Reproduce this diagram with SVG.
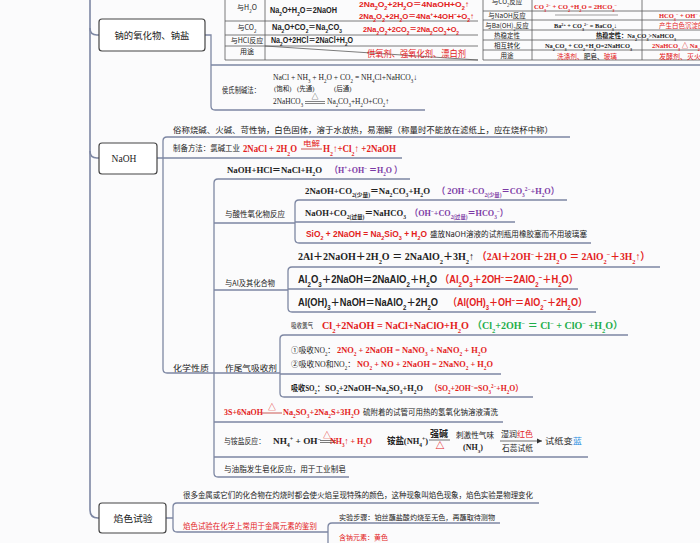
<svg xmlns="http://www.w3.org/2000/svg" width="700" height="543" viewBox="0 0 700 543">
<defs>
<style>
text{font-family:"Noto Sans CJK SC","Noto Sans",sans-serif;fill:#222}
.c{font-size:8px}
.t{font-family:"Liberation Serif","Noto Sans CJK SC",serif;font-weight:bold;font-size:9px}
.n{font-family:"Liberation Serif","Noto Sans CJK SC",serif;font-size:8px}
.a{font-family:"Liberation Sans","Noto Sans CJK SC",sans-serif;font-weight:bold;font-size:10px}
.r{fill:#e3211b}
.pu{fill:#7b3aa5}
.g{fill:#1fae4b}
.bl{fill:#2a8ee0}
.k{fill:#222}
.s{font-size:65%;baseline-shift:sub}
.p{font-size:65%;baseline-shift:super}
.ln{fill:none;stroke:#7d87a3;stroke-width:1.3}
.sp{fill:none;stroke:#7d87a3;stroke-width:1.6}
.tb{fill:none;stroke:#5a5a5a;stroke-width:0.8}
.box{fill:#fff;stroke:#454545;stroke-width:1.2}
.nt{font-size:9.5px;text-anchor:middle}
.lb{font-size:7px;text-anchor:middle}
</style>
<marker id="ah" markerWidth="6" markerHeight="6" refX="5" refY="3" orient="auto" markerUnits="userSpaceOnUse"><path d="M0,0.5 L5,3 L0,5.5 z" fill="#333"/></marker>
</defs>
<rect width="700" height="543" fill="#fbfbfc"/>

<g id="connectors">
<path class="sp" d="M90,0 V510 Q90,518 98,518 H99"/>
<path class="sp" d="M90,28 Q90,35 97,35 H99"/>
<path class="sp" d="M90,151 Q90,158 97,158 H99"/>
<path class="ln" d="M205,35 H211 V106 Q211,110 215,110 H425"/>
<path class="ln" d="M211,65 H700"/>
<path class="ln" d="M157,158 H402"/>
<path class="ln" d="M570,137 H167 Q163,137 163,141 V369 Q163,373 167,373 H280"/>
<path class="ln" d="M410,179 H218 Q214,179 214,183 V473 Q214,477 218,477 H349"/>
<path class="ln" d="M214,223 H295 M214,290 H288 M214,422 H503 M214,457 H588"/>
<path class="ln" d="M567,200 H299 Q295,200 295,204 V239 Q295,243 299,243 H591 M295,222 H515"/>
<path class="ln" d="M660,267 H292 Q288,267 288,271 V308 Q288,312 292,312 H596 M288,289 H578"/>
<path class="ln" d="M628,335 H284 Q280,335 280,339 V393 Q280,397 284,397 H533 M280,374 H501"/>
<path class="ln" d="M166,518 H173 M539,503 H177 Q173,503 173,507 V528 Q173,532 177,532 H328"/>
<path class="ln" d="M500,523 H332 Q328,523 328,527 V543"/>
</g>

<g id="node-oxide">
<rect class="box" x="99" y="19" width="106" height="32" rx="3"/>
<text class="nt" x="152" y="38.5" textLength="75" lengthAdjust="spacingAndGlyphs">钠的氧化物、钠盐</text>
</g>

<g id="table-na2o">
<path class="tb" d="M225,0 V60 M265,0 V60 M225,21 H478 M225,35 H478 M225,46 H478 M225,60 H478 M265,46 L478,60"/>
<text class="lb" x="247" y="10">与H<tspan class="s">2</tspan>O</text>
<text class="lb" x="247" y="30">与CO<tspan class="s">2</tspan></text>
<text class="lb" x="247" y="43">与HCl反应</text>
<text class="lb" x="247" y="54">用途</text>
<text class="a" style="font-size:8.5px" x="270" y="13" textLength="67" lengthAdjust="spacingAndGlyphs">Na<tspan class="s">2</tspan>O+H<tspan class="s">2</tspan>O＝2NaOH</text>
<text class="a r" style="font-size:8px" x="359" y="7" textLength="110" lengthAdjust="spacingAndGlyphs">2Na<tspan class="s">2</tspan>O<tspan class="s">2</tspan>+2H<tspan class="s">2</tspan>O＝4NaOH+O<tspan class="s">2</tspan>↑</text>
<text class="a r" style="font-size:8px" x="359" y="19" textLength="115" lengthAdjust="spacingAndGlyphs">2Na<tspan class="s">2</tspan>O<tspan class="s">2</tspan>+2H<tspan class="s">2</tspan>O＝4Na<tspan class="p">+</tspan>+4OH<tspan class="p">−</tspan>+O<tspan class="s">2</tspan>↑</text>
<text class="a" style="font-size:8.5px" x="272" y="30" textLength="70" lengthAdjust="spacingAndGlyphs">Na<tspan class="s">2</tspan>O+CO<tspan class="s">2</tspan>＝Na<tspan class="s">2</tspan>CO<tspan class="s">3</tspan></text>
<text class="a r" style="font-size:8px" x="363" y="32" textLength="96" lengthAdjust="spacingAndGlyphs">2Na<tspan class="s">2</tspan>O<tspan class="s">2</tspan>+2CO<tspan class="s">2</tspan>＝2Na<tspan class="s">2</tspan>CO<tspan class="s">3</tspan>+O<tspan class="s">2</tspan></text>
<text class="a" style="font-size:8.5px" x="271" y="43" textLength="82" lengthAdjust="spacingAndGlyphs">Na<tspan class="s">2</tspan>O+2HCl＝2NaCl+H<tspan class="s">2</tspan>O</text>
<text class="r" style="font-size:9px" x="367" y="57" textLength="99" lengthAdjust="spacingAndGlyphs">供氧剂、强氧化剂、漂白剂</text>
</g>

<g id="table-na2co3">
<path class="tb" d="M483,0 V60 M532,0 V60 M642,0 V60 M483,11 H700 M483,20 H700 M483,30 H700 M483,40 H700 M483,50 H700 M483,60 H700"/>
<path d="M555,15 H618" stroke="#777" stroke-width="0.7"/>
<text class="lb" style="font-size:6.5px" x="507" y="4">与CO<tspan class="s">2</tspan>反应</text>
<text class="lb" style="font-size:6.5px" x="507" y="17.5">与NaOH反应</text>
<text class="lb" style="font-size:6.5px" x="507" y="27.5">与Ba(OH)<tspan class="s">2</tspan>反应</text>
<text class="lb" style="font-size:6.5px" x="507" y="37.5">热稳定性</text>
<text class="lb" style="font-size:6.5px" x="507" y="47.5">相互转化</text>
<text class="lb" style="font-size:6.5px" x="507" y="57.5">用途</text>
<text class="t r" style="font-size:6.5px" x="534" y="8.5" textLength="83" lengthAdjust="spacingAndGlyphs">CO<tspan class="s">3</tspan><tspan class="p">2−</tspan> + CO<tspan class="s">2</tspan>+H<tspan class="s">2</tspan>O = 2HCO<tspan class="s">3</tspan><tspan class="p">−</tspan></text>
<text class="t r" style="font-size:6.5px" x="659" y="17.5">HCO<tspan class="s">3</tspan><tspan class="p">−</tspan> + OH<tspan class="p">−</tspan> = CO<tspan class="s">3</tspan><tspan class="p">2−</tspan></text>
<text class="t" style="font-size:6.5px" x="554" y="27.5" textLength="63" lengthAdjust="spacingAndGlyphs">Ba<tspan class="p">2+</tspan> + CO<tspan class="s">3</tspan><tspan class="p">2−</tspan> = BaCO<tspan class="s">3</tspan>↓</text>
<text class="r" style="font-size:6.5px" x="659" y="27.5">产生白色沉淀的是Na<tspan class="s">2</tspan>CO<tspan class="s">3</tspan></text>
<text class="t" style="font-size:6.5px" x="596" y="38" textLength="80" lengthAdjust="spacingAndGlyphs">热稳定性：Na<tspan class="s">2</tspan>CO<tspan class="s">3</tspan>&gt;NaHCO<tspan class="s">3</tspan></text>
<text class="t" style="font-size:6.5px" x="545" y="48" textLength="87" lengthAdjust="spacingAndGlyphs">Na<tspan class="s">2</tspan>CO<tspan class="s">3</tspan> + CO<tspan class="s">2</tspan>+H<tspan class="s">2</tspan>O=2NaHCO<tspan class="s">3</tspan></text>
<text class="t r" style="font-size:6.5px" x="652" y="48">2NaHCO<tspan class="s">3</tspan>  △  Na<tspan class="s">2</tspan>CO<tspan class="s">3</tspan></text>
<text style="font-size:7px" x="557" y="58.5" textLength="60" lengthAdjust="spacingAndGlyphs"><tspan class="r">洗涤剂、</tspan>肥皂、<tspan class="r">玻璃</tspan></text>
<text class="r" style="font-size:7px" x="659" y="58.5">发酵剂、灭火剂</text>
</g>

<g id="hou">
<text class="c" style="font-size:7.5px" x="222" y="93" textLength="38" lengthAdjust="spacingAndGlyphs">侯氏制碱法：</text>
<text class="n" x="273" y="80" textLength="144" lengthAdjust="spacingAndGlyphs">NaCl + NH<tspan class="s">3</tspan> + H<tspan class="s">2</tspan>O + CO<tspan class="s">2</tspan> = NH<tspan class="s">4</tspan>Cl+NaHCO<tspan class="s">3</tspan>↓</text>
<text class="n" style="font-size:6.5px" x="274" y="91">(饱和)</text>
<text class="n" style="font-size:6.5px" x="297" y="91">(先通)</text>
<text class="n" style="font-size:6.5px" x="334" y="91">(后通)</text>
<text class="n" x="273" y="104" textLength="30" lengthAdjust="spacingAndGlyphs">2NaHCO<tspan class="s">3</tspan></text>
<text class="n" style="font-size:7px;text-anchor:middle" x="315" y="99">△</text>
<path d="M305,101.5 H325 M305,103.5 H325" stroke="#333" stroke-width="0.6"/>
<text class="n" x="327" y="104" textLength="62" lengthAdjust="spacingAndGlyphs">Na<tspan class="s">2</tspan>CO<tspan class="s">3</tspan>+H<tspan class="s">2</tspan>O+CO<tspan class="s">2</tspan>↑</text>
</g>

<g id="node-naoh">
<rect class="box" x="99" y="143" width="58" height="31" rx="3"/>
<text x="124" y="161.5" style="font-family:'Liberation Serif',serif;font-size:9.5px;text-anchor:middle">NaOH</text>
</g>

<g id="naoh-props">
<text class="c" style="font-size:8.5px" x="173" y="133" textLength="380" lengthAdjust="spacingAndGlyphs">俗称烧碱、火碱、苛性钠，白色固体，溶于水放热，易潮解（称量时不能放在滤纸上，应在烧杯中称）</text>
<text class="c" style="font-size:7.5px" x="173" y="151" textLength="67" lengthAdjust="spacingAndGlyphs">制备方法：氯碱工业</text>
<text class="t r" style="font-size:10px" x="243" y="152" textLength="54" lengthAdjust="spacingAndGlyphs">2NaCl + 2H<tspan class="s">2</tspan>O</text>
<text class="r" style="font-size:7px" x="303" y="146" textLength="17" lengthAdjust="spacingAndGlyphs">电解</text>
<path d="M301,149 H322" stroke="#c0302a" stroke-width="0.8"/>
<text class="t r" style="font-size:10px" x="323" y="152" textLength="73" lengthAdjust="spacingAndGlyphs">H<tspan class="s">2</tspan>↑+Cl<tspan class="s">2</tspan>↑ +2NaOH</text>
<text class="c" style="font-size:7.5px" x="173" y="371" textLength="36" lengthAdjust="spacingAndGlyphs">化学性质</text>
</g>

<g id="hcl">
<text class="t" x="227" y="172.5" textLength="95" lengthAdjust="spacingAndGlyphs">NaOH+HCl＝NaCl+H<tspan class="s">2</tspan>O</text>
<text class="t pu" x="330" y="172.5" textLength="72" lengthAdjust="spacingAndGlyphs">（H<tspan class="p">+</tspan>+OH<tspan class="p">−</tspan> ＝H<tspan class="s">2</tspan>O ）</text>
</g>

<g id="acid-oxide">
<text class="c" style="font-size:7.5px" x="225" y="217" textLength="60" lengthAdjust="spacingAndGlyphs">与酸性氧化物反应</text>
<text class="t" x="305" y="194" textLength="125" lengthAdjust="spacingAndGlyphs">2NaOH+CO<tspan class="s">2(少量)</tspan>＝Na<tspan class="s">2</tspan>CO<tspan class="s">3</tspan>+H<tspan class="s">2</tspan>O</text>
<text class="t pu" x="437" y="194" textLength="122" lengthAdjust="spacingAndGlyphs">（ 2OH<tspan class="p">−</tspan>+CO<tspan class="s">2(少量)</tspan>＝CO<tspan class="s">3</tspan><tspan class="p">2−</tspan>+H<tspan class="s">2</tspan>O）</text>
<text class="t" x="305" y="216" textLength="101" lengthAdjust="spacingAndGlyphs">NaOH+CO<tspan class="s">2(过量)</tspan>＝NaHCO<tspan class="s">3</tspan></text>
<text class="t pu" x="410" y="216" textLength="98" lengthAdjust="spacingAndGlyphs">（OH<tspan class="p">−</tspan>+CO<tspan class="s">2(过量)</tspan>＝HCO<tspan class="s">3</tspan><tspan class="p">−</tspan>）</text>
<text class="a r" style="font-size:9px" x="306" y="237" textLength="121" lengthAdjust="spacingAndGlyphs">SiO<tspan class="s">2</tspan> + 2NaOH = Na<tspan class="s">2</tspan>SiO<tspan class="s">3</tspan> + H<tspan class="s">2</tspan>O</text>
<text class="c" style="font-size:7.5px" x="430" y="237" textLength="157" lengthAdjust="spacingAndGlyphs">盛放NaOH溶液的试剂瓶用橡胶塞而不用玻璃塞</text>
</g>

<g id="al">
<text class="c" style="font-size:7.5px" x="225" y="286" textLength="50" lengthAdjust="spacingAndGlyphs">与Al及其化合物</text>
<text class="t" style="font-size:10.5px" x="298" y="260" textLength="176" lengthAdjust="spacingAndGlyphs">2Al＋2NaOH＋2H<tspan class="s">2</tspan>O ＝ 2NaAlO<tspan class="s">2</tspan>＋3H<tspan class="s">2</tspan>↑</text>
<text class="t r" style="font-size:10.5px" x="477" y="260" textLength="173" lengthAdjust="spacingAndGlyphs">（2Al＋2OH<tspan class="p">−</tspan>＋2H<tspan class="s">2</tspan>O ＝ 2AlO<tspan class="s">2</tspan><tspan class="p">−</tspan>＋3H<tspan class="s">2</tspan>↑）</text>
<text class="a" style="font-size:10.5px" x="298" y="283" textLength="139" lengthAdjust="spacingAndGlyphs">Al<tspan class="s">2</tspan>O<tspan class="s">3</tspan>＋2NaOH＝2NaAlO<tspan class="s">2</tspan>＋H<tspan class="s">2</tspan>O</text>
<text class="a r" style="font-size:10.5px" x="440" y="283" textLength="138" lengthAdjust="spacingAndGlyphs">（Al<tspan class="s">2</tspan>O<tspan class="s">3</tspan>＋2OH<tspan class="p">−</tspan>＝2AlO<tspan class="s">2</tspan><tspan class="p">−</tspan>＋H<tspan class="s">2</tspan>O）</text>
<text class="a" style="font-size:10.5px" x="298" y="306" textLength="140" lengthAdjust="spacingAndGlyphs">Al(OH)<tspan class="s">3</tspan>＋NaOH＝NaAlO<tspan class="s">2</tspan>＋2H<tspan class="s">2</tspan>O</text>
<text class="a r" style="font-size:10.5px" x="448" y="306" textLength="139" lengthAdjust="spacingAndGlyphs">（Al(OH)<tspan class="s">3</tspan>＋OH<tspan class="p">−</tspan>＝AlO<tspan class="s">2</tspan><tspan class="p">−</tspan>＋2H<tspan class="s">2</tspan>O）</text>
</g>

<g id="tail-gas">
<text class="c" style="font-size:7.5px" x="225" y="371" textLength="52" lengthAdjust="spacingAndGlyphs">作尾气吸收剂</text>
<text class="c" style="font-size:7px" x="291" y="328" textLength="22" lengthAdjust="spacingAndGlyphs">吸收氯气</text>
<text class="t r" style="font-size:10px" x="322" y="329" textLength="147" lengthAdjust="spacingAndGlyphs">Cl<tspan class="s">2</tspan>+2NaOH = NaCl+NaClO+H<tspan class="s">2</tspan>O</text>
<text class="t g" style="font-size:10px" x="472" y="329" textLength="151" lengthAdjust="spacingAndGlyphs">（Cl<tspan class="s">2</tspan>+2OH<tspan class="p">−</tspan> ＝ Cl<tspan class="p">−</tspan> + ClO<tspan class="p">−</tspan> +H<tspan class="s">2</tspan>O）</text>
<text class="n" x="291" y="353" textLength="44" lengthAdjust="spacingAndGlyphs">①吸收NO<tspan class="s">2</tspan>：</text>
<text class="t r" style="font-size:8.5px" x="337" y="353" textLength="150" lengthAdjust="spacingAndGlyphs">2NO<tspan class="s">2</tspan> + 2NaOH =  NaNO<tspan class="s">3</tspan> + NaNO<tspan class="s">2</tspan> + H<tspan class="s">2</tspan>O</text>
<text class="n" x="291" y="367" textLength="64" lengthAdjust="spacingAndGlyphs">②吸收NO和NO<tspan class="s">2</tspan>：</text>
<text class="t r" style="font-size:8.5px" x="357" y="367" textLength="136" lengthAdjust="spacingAndGlyphs">NO<tspan class="s">2</tspan> + NO + 2NaOH =  2NaNO<tspan class="s">2</tspan> + H<tspan class="s">2</tspan>O</text>
<text class="t" style="font-size:8.5px" x="291" y="391" textLength="33" lengthAdjust="spacingAndGlyphs">吸收SO<tspan class="s">2</tspan>：</text>
<text class="t" style="font-size:8.5px" x="325" y="391" textLength="98" lengthAdjust="spacingAndGlyphs">SO<tspan class="s">2</tspan>+2NaOH=Na<tspan class="s">2</tspan>SO<tspan class="s">3</tspan>+H<tspan class="s">2</tspan>O</text>
<text class="t r" style="font-size:8.5px" x="430" y="391" textLength="93" lengthAdjust="spacingAndGlyphs">（SO<tspan class="s">2</tspan>+2OH<tspan class="p">−</tspan>=SO<tspan class="s">3</tspan><tspan class="p">2−</tspan>+H<tspan class="s">2</tspan>O）</text>
</g>

<g id="sulfur">
<text class="t r" style="font-size:8.5px" x="224" y="415" textLength="39" lengthAdjust="spacingAndGlyphs">3S+6NaOH</text>
<text class="r" style="font-size:8px;text-anchor:middle" x="272" y="410">△</text>
<path d="M262,413 H282" stroke="#c0302a" stroke-width="0.8"/>
<text class="t r" style="font-size:8.5px" x="283" y="415" textLength="77" lengthAdjust="spacingAndGlyphs">Na<tspan class="s">2</tspan>SO<tspan class="s">3</tspan>+2Na<tspan class="s">2</tspan>S+3H<tspan class="s">2</tspan>O</text>
<text class="c" style="font-size:7.5px" x="363" y="415" textLength="135" lengthAdjust="spacingAndGlyphs">硫附着的试管可用热的氢氧化钠溶液清洗</text>
</g>

<g id="ammonium">
<text class="c" style="font-size:7.5px" x="224" y="444" textLength="41" lengthAdjust="spacingAndGlyphs">与铵盐反应：</text>
<text class="t" style="font-size:9px" x="273" y="444" textLength="48" lengthAdjust="spacingAndGlyphs">NH<tspan class="s">4</tspan><tspan class="p">+</tspan> + OH<tspan class="p">−</tspan></text>
<text class="r" style="font-size:8px;text-anchor:middle" x="327" y="438">△</text>
<path d="M320,440.5 H336 M320,442.5 H336" stroke="#444" stroke-width="0.7"/>
<text class="t r" style="font-size:9px" x="330" y="444" textLength="42" lengthAdjust="spacingAndGlyphs">NH<tspan class="s">3</tspan>↑ + H<tspan class="s">2</tspan>O</text>
<text class="t" style="font-size:9px" x="387" y="444" textLength="41" lengthAdjust="spacingAndGlyphs">铵盐(NH<tspan class="s">4</tspan><tspan class="p">+</tspan>)</text>
<text class="t" style="font-size:9px" x="430" y="437" textLength="18" lengthAdjust="spacingAndGlyphs">强碱</text>
<path d="M429,440 H450" stroke="#333" stroke-width="0.7"/>
<text class="r" style="font-size:9px;font-weight:bold;text-anchor:middle" x="440" y="449">△</text>
<text class="c" style="font-size:7.5px" x="456" y="438" textLength="38" lengthAdjust="spacingAndGlyphs">刺激性气味</text>
<text class="t" style="font-size:7.5px" x="463" y="450" textLength="20" lengthAdjust="spacingAndGlyphs">(NH<tspan class="s">3</tspan>)</text>
<text class="n" style="font-size:8.5px" x="501" y="437" textLength="32" lengthAdjust="spacingAndGlyphs">湿润<tspan class="r">红色</tspan></text>
<path d="M500,441 H542" stroke="#333" stroke-width="0.7" marker-end="url(#ah)"/>
<text class="n" style="font-size:8.5px" x="502" y="451" textLength="31" lengthAdjust="spacingAndGlyphs">石蕊试纸</text>
<text class="n" style="font-size:8.5px" x="545" y="444" textLength="37" lengthAdjust="spacingAndGlyphs">试纸变<tspan class="bl">蓝</tspan></text>
</g>

<g id="soap">
<text class="c" style="font-size:7.5px" x="224" y="472" textLength="122" lengthAdjust="spacingAndGlyphs">与油脂发生皂化反应，用于工业制皂</text>
</g>

<g id="node-flame">
<rect class="box" x="99" y="503" width="67" height="30" rx="3"/>
<text class="nt" x="133" y="521.5" textLength="39" lengthAdjust="spacingAndGlyphs">焰色试验</text>
</g>

<g id="flame-props">
<text class="c" style="font-size:7.5px" x="183" y="498" textLength="350" lengthAdjust="spacingAndGlyphs">很多金属或它们的化合物在灼烧时都会使火焰呈现特殊的颜色，这种现象叫焰色现象，焰色实验是物理变化</text>
<text class="c r" style="font-size:7.5px" x="183" y="529" textLength="134" lengthAdjust="spacingAndGlyphs">焰色试验在化学上常用于金属元素的鉴别</text>
<text class="c" style="font-size:7px" x="339" y="520" textLength="156" lengthAdjust="spacingAndGlyphs">实验步骤：铂丝蘸盐酸灼烧至无色，再蘸取待测物</text>
<text class="c r" style="font-size:7px" x="339" y="540" textLength="49" lengthAdjust="spacingAndGlyphs">含钠元素：黄色</text>
</g>
</svg>
